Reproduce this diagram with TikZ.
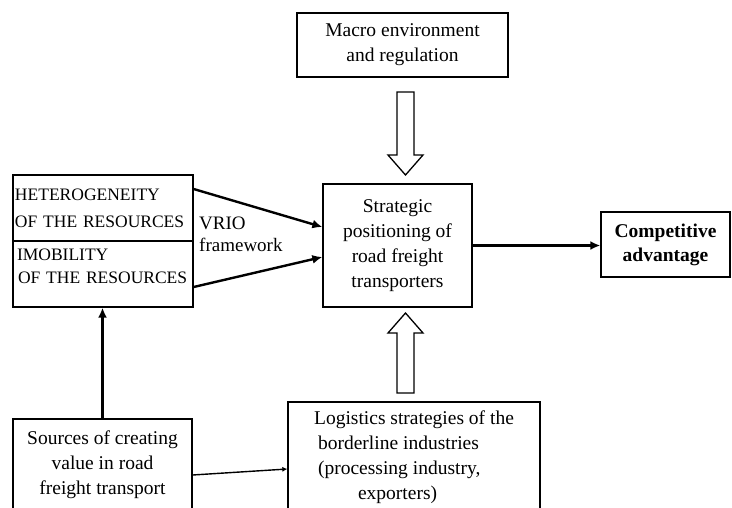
\documentclass[tikz,border=0pt]{standalone}
\usepackage{fontspec}
\setmainfont{Liberation Serif}
\usetikzlibrary{calc,arrows.meta}
\newcommand{\blockArrow}[4]{%
  \draw[hollow] (#1-8.5,#2) -- (#1+8.5,#2) -- (#1+8.5,#3) -- (#1+17.5,#3)
    -- (#1,#4) -- (#1-17.5,#3) -- (#1-8.5,#3) -- cycle;}

\begin{document}
\begin{tikzpicture}[x=1pt, y=-1pt]
  \tikzset{box/.style={draw, line width=1.3pt, inner sep=0pt, align=center,
      font=\fontsize{19.5}{25}\selectfont},
    cell/.style={box, align=left, text width=178pt, inner xsep=1pt, minimum height=66pt,
      font=\fontsize{17.5}{25}\selectfont},
    link/.style={line width=2.4pt, -{Latex[length=10pt,width=9pt]}},
    thinlink/.style={line width=1.4pt, -{Latex[length=5pt,width=5pt]}},
    hollow/.style={draw, line width=1.3pt, fill=white}}
  \useasboundingbox (0,0) rectangle (732,507);
  \clip (0,0) rectangle (732,507);

  \node[box, minimum width=211pt, minimum height=64pt] (macro) at (402.5,45)
    {Macro environment\\and regulation};
  \node[box, minimum width=149pt, minimum height=123pt] (strat) at (397.5,245.5)
    {Strategic\\positioning of\\road freight\\transporters};
  \node[box, font=\fontsize{19.5}{24}\selectfont\bfseries,
    minimum width=129pt, minimum height=65pt] (comp) at (665.5,244.5)
    {Competitive\\advantage};
  \node[cell] (het) at (103,208)
    {\mbox{\hspace{1pt}HETEROGENEITY}\\[2pt]\mbox{\hspace{1pt}OF THE RESOURCES}};
  \node[cell] (imob) at (103,274)
    {\mbox{\hspace{3pt}IMOBILITY}\\[-2pt]\mbox{\hspace{4pt}OF THE RESOURCES}\\[-10pt]\mbox{}};
  \node[font=\fontsize{19}{25}\selectfont, align=left, anchor=west, inner sep=0pt]
    (vrio) at (199,234) {VRIO\\[-3pt]framework};
  \node[box, minimum width=179pt, minimum height=91pt] (src) at (102.5,464.5)
    {Sources of creating\\value in road\\freight transport};
  \node[box, align=left, minimum width=252pt, minimum height=110pt] (logi) at (414,457)
    {Logistics strategies of the\\\hspace{4pt}borderline industries\\\hspace{4pt}(processing industry,\\
     \hspace{44pt}exporters)};

  % connectors
  \draw[link] ($(het.east)+(0,-19)$) -- ($(strat.west)+(0,-18.5)$);
  \draw[link] ($(imob.east)+(0,13)$) -- ($(strat.west)+(0,11.5)$);
  \draw[link] (strat.east) -- (strat.east -| comp.west);
  \draw[link] (src.north) -- (src.north |- imob.south);
  \draw[thinlink] ($(src.east)+(0,10.5)$) -- ($(logi.west)+(0,12)$);

  \blockArrow{405.5}{92}{155}{175}
  \blockArrow{405.5}{393}{333}{313}
\end{tikzpicture}
\end{document}
